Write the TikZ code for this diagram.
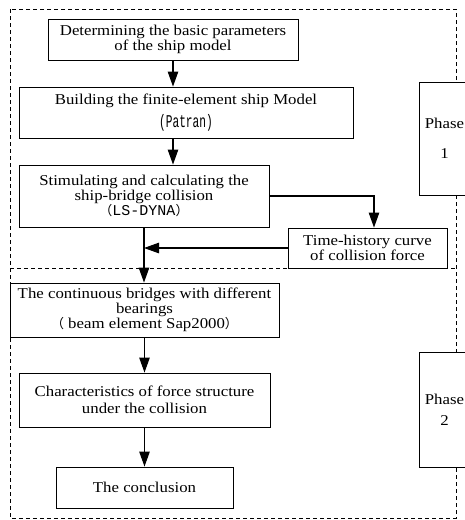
\documentclass[tikz,border=0pt]{standalone}
\usepackage{fontspec}
\setmainfont{Liberation Serif}[FakeStretch=1.12]
\newfontfamily\narrowmono{Liberation Mono}[FakeStretch=0.62]
\newfontfamily\widemono{Liberation Mono}
\newfontfamily\cjkfont{Noto Sans CJK SC}
\usetikzlibrary{arrows.meta, positioning, calc}

\begin{document}
\begin{tikzpicture}[
  x=1pt, y=-1pt,
  font=\fontsize{15}{15}\selectfont,
  every node/.style={align=center},
  box/.style={draw, line width=0.9pt, inner sep=0pt},
  arr/.style={-{Triangle[length=15pt, width=10.5pt]}, line width=1.1pt},
  frame/.style={dash pattern=on 4pt off 3pt, line width=0.9pt},
  phasebox/.style={draw, fill=white, line width=0.9pt, minimum width=51pt,
                   inner sep=0pt}
]
  \useasboundingbox (0,0) rectangle (465,520);
  \fill[white] (0,0) rectangle (465,520);
  \clip (0,0) rectangle (465,520);

  % the two phases
  \draw[frame] (10,9) rectangle (456,518);
  \draw[frame] (10,268) -- (456,268);

  \node[box, minimum width=250pt, minimum height=41pt] (det) at (173,39.5)
    {Determining the basic parameters\\of the ship model};
  \node[box, minimum width=334pt, minimum height=51pt] (fem) at (186,112.5)
    {Building the finite-element ship Model\\[5pt]{\narrowmono\fontsize{18}{15}\selectfont (Patran)}};
  \node[box, minimum width=250pt, minimum height=62pt,
        font=\fontsize{15}{13}\selectfont] (sim) at (144,196)
    {Stimulating and calculating the\\ship-bridge collision\\{\cjkfont\fontsize{13}{13}\selectfont （}{\widemono\fontsize{15}{13}\selectfont LS-DYNA}{\cjkfont\fontsize{13}{13}\selectfont ）}};
  \node[box, minimum width=159pt, minimum height=40pt,
        font=\fontsize{15}{13}\selectfont] (curve) at (367.5,248)
    {Time-history curve\\of collision force};

  \node[box, minimum width=269pt, minimum height=54pt] (bridge) at (144.5,310)
    {The continuous bridges with different\\bearings\\{\cjkfont\fontsize{13}{15}\selectfont （} beam element Sap2000{\cjkfont\fontsize{13}{15}\selectfont ）}};
  \node[box, minimum width=251pt, minimum height=54pt] (force) at (144.5,400)
    {Characteristics of force structure\\[2pt]under the collision};
  \node[box, minimum width=177pt, minimum height=41pt] (concl) at (144.5,487.5)
    {The conclusion};

  \node[phasebox, minimum height=113pt] (ph1) at (444.5,138.5) {Phase\\[15pt]1};
  \node[phasebox, minimum height=115pt] (ph2) at (444.5,409.5) {Phase\\[6pt]2};

  \draw[arr] (det.south) -- (det.south |- fem.north);
  \draw[arr] (fem.south -| det.south) -- (sim.north -| det.south);
  \draw[arr] (sim.east) -| ($(curve.north)+(6.5,0)$);
  \draw[arr] (sim.south) -- (sim.south |- bridge.north);
  \draw[arr] (curve.west) -- (curve.west -| sim.south);
  \draw[arr] (bridge.south) -- (force.north);
  \draw[arr] (force.south) -- (concl.north);
\end{tikzpicture}
\end{document}
